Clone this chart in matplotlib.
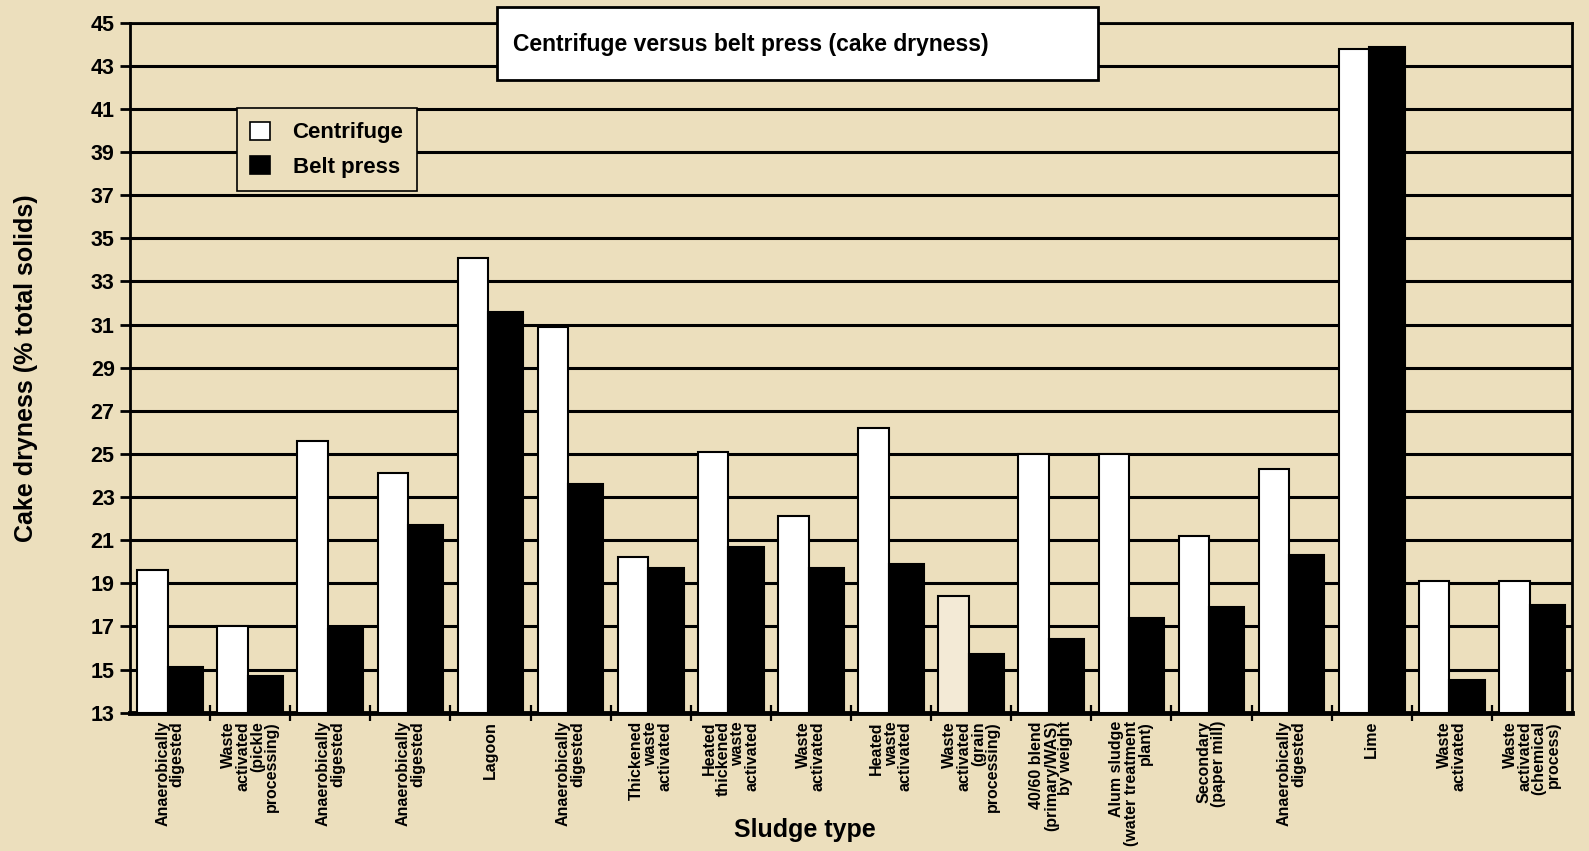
import matplotlib
matplotlib.use("Agg")

import matplotlib.pyplot as plt
from matplotlib import font_manager
from matplotlib.patches import Rectangle, Patch

sludge = [
    "Anaerobically\ndigested",
    "Waste\nactivated\n(pickle\nprocessing)",
    "Anaerobically\ndigested",
    "Anaerobically\ndigested",
    "Lagoon",
    "Anaerobically\ndigested",
    "Thickened\nwaste\nactivated",
    "Heated\nthickened\nwaste\nactivated",
    "Waste\nactivated",
    "Heated\nwaste\nactivated",
    "Waste\nactivated\n(grain\nprocessing)",
    "40/60 blend\n(primary/WAS)\nby weight",
    "Alum sludge\n(water treatment\nplant)",
    "Secondary\n(paper mill)",
    "Anaerobically\ndigested",
    "Lime",
    "Waste\nactivated",
    "Waste\nactivated\n(chemical\nprocess)",
]
centrifuge = [19.6, 17.0, 25.6, 24.1, 34.1, 30.9, 20.2, 25.1, 22.1, 26.2,
              18.4, 25.0, 25.0, 21.2, 24.3, 43.8, 19.1, 19.1]
belt_press = [15.1, 14.7, 16.9, 21.7, 31.6, 23.6, 19.7, 20.7, 19.7, 19.9,
              15.7, 16.4, 17.4, 17.9, 20.3, 43.85, 14.5, 18.0]
yticks = list(range(13, 46, 2))

BG = "#ecdfbd"

installed = {f.name for f in font_manager.fontManager.ttflist}
narrow = "Liberation Sans Narrow" if "Liberation Sans Narrow" in installed else "Liberation Sans"
plt.rcParams["font.family"] = ["Liberation Sans", "DejaVu Sans"]
plt.rcParams["font.weight"] = "bold"

W, H = 1589, 851
fig = plt.figure(figsize=(W / 100, H / 100), dpi=100, facecolor=BG)
ax = fig.add_axes([130 / W, 1 - 712.7 / H, 1442 / W, 690 / H], facecolor=BG)

n = len(sludge)
xs = list(range(n))
cbars = ax.bar([x + 0.09 for x in xs], [v - 13 for v in centrifuge], width=0.38,
               bottom=13, align="edge", color="white", edgecolor="black",
               linewidth=1.5, zorder=3)
bbars = ax.bar([x + 0.47 for x in xs], [v - 13 for v in belt_press], width=0.44,
               bottom=13, align="edge", color="black", edgecolor="black",
               linewidth=1.5, zorder=3)
# the grain-processing centrifuge bar prints paler than the others
cbars[10].set_facecolor("#f3ead6")

ax.set_xlim(0, n)
ax.set_ylim(13, 45)
ax.set_yticks(yticks)
ax.set_yticklabels([str(t) for t in yticks], fontsize=15.5, fontweight="bold")
ax.set_axisbelow(True)
ax.yaxis.grid(True, color="black", linewidth=2.2)
ax.tick_params(axis="y", direction="out", length=7, width=2, pad=4)

# category boundaries carry the tick marks, names sit in between
ax.set_xticks(range(1, n))
ax.set_xticklabels([])
ax.tick_params(axis="x", which="major", direction="inout", length=12, width=1.6)
ax.set_xticks([x + 0.5 for x in xs], minor=True)
ax.set_xticklabels(sludge, minor=True, rotation=90, fontsize=11.5,
                   fontweight="bold", family=[narrow, "DejaVu Sans"],
                   ha="center", va="top", multialignment="right",
                   linespacing=0.95)
ax.tick_params(axis="x", which="minor", length=0, pad=6)

for side, lw in (("left", 2), ("right", 2), ("top", 2), ("bottom", 3.5)):
    ax.spines[side].set_linewidth(lw)
    ax.spines[side].set_color("black")

ax.set_ylabel("Cake dryness (% total solids)", fontsize=18, fontweight="bold")
ax.yaxis.set_label_coords(-0.064, 0.5)
ax.set_xlabel("Sludge type", fontsize=18, fontweight="bold")
ax.xaxis.set_label_coords(0.468, -0.152)

handles = [Patch(facecolor="white", edgecolor="black", linewidth=1.2),
           Patch(facecolor="black", edgecolor="black", linewidth=1.2)]
leg = ax.legend(handles, ["Centrifuge", "Belt press"], loc="upper left",
                bbox_to_anchor=(0.0742, 0.876), borderaxespad=0,
                fancybox=False, framealpha=1, facecolor=BG, edgecolor="black",
                prop={"size": 16, "weight": "bold"}, handlelength=0.9,
                handleheight=0.9, handletextpad=1.0, labelspacing=0.55,
                borderpad=0.6)
leg.get_frame().set_linewidth(1.2)
leg.set_zorder(5)

# title panel overlapping the top of the frame
fig.patches.append(Rectangle((497 / W, 1 - 80 / H), 601 / W, 73 / H,
                             transform=fig.transFigure, facecolor="white",
                             edgecolor="black", linewidth=2, zorder=10))
fig.text(513 / W, 1 - 44 / H, "Centrifuge versus belt press (cake dryness)",
         fontsize=16.5, fontweight="bold", ha="left", va="center", zorder=11)

fig.savefig("out.png", dpi=100, facecolor=BG)
